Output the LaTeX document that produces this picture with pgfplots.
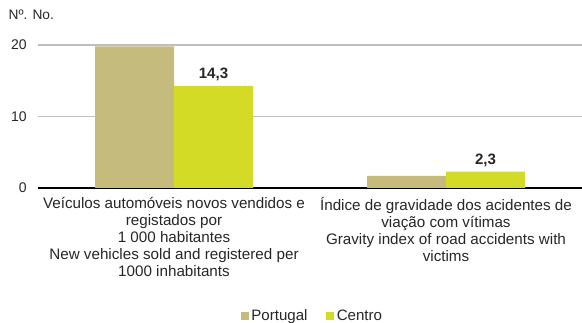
\documentclass[border=0pt]{standalone}
\usepackage{fontspec}
\setmainfont{Liberation Sans}
\usepackage{pgfplots}
\pgfplotsset{compat=1.18}

\definecolor{portugal}{HTML}{C4BB7D}
\definecolor{centro}{HTML}{D4DB27}
\definecolor{gridgray}{HTML}{BFBFBF}
\definecolor{txt}{HTML}{262626}

\begin{document}
\begin{tikzpicture}[x=1pt,y=1pt]
\useasboundingbox (-28.5,-101.25) rectangle (408,141);
\begin{axis}[
  at={(0,0)}, anchor=south west,
  scale only axis,
  width=408pt, height=107.25pt,
  xmin=-0.5, xmax=1.5,
  ymin=0, ymax=20,
  ybar, bar width=59.25pt,
  axis x line*=bottom, axis y line*=left,
  x axis line style={black, line width=1pt, -},
  y axis line style={draw=none},
  ytick={0,10,20},
  ymajorgrids,
  grid style={gridgray, line width=0.8pt},
  xtick={0,1},
  xtick style={draw=none},
  ytick style={draw=none},
  xticklabels={
    {Veículos automóveis novos vendidos e\\registados por\\1 000 habitantes\\New vehicles sold and registered per\\1000 inhabitants},
    {Índice de gravidade dos acidentes de\\viação com vítimas\\Gravity index of road accidents with\\victims}},
  xticklabel style={align=center, font=\fontsize{11.4}{12.75}\selectfont, text=txt, yshift=1pt},
  yticklabel style={font=\fontsize{10.5}{13}\selectfont, text=txt, xshift=-5pt},
  /pgf/number format/assume math mode=true,
  legend style={draw=none, fill=none, legend columns=2,
    at={(axis description cs:0.505,-0.895)}, anchor=center,
    font=\fontsize{11.3}{12}\selectfont, text=txt,
    /tikz/every even column/.append style={column sep=12pt}},
  legend image code/.code={\fill[#1] (0pt,-3pt) rectangle (6pt,3pt);},
  clip=false,
]
\addplot[fill=portugal, draw=none, bar shift=-29.625pt] coordinates {(0,19.8) (1,1.7)};
\addlegendentry{Portugal}
\addplot[fill=centro, draw=none, bar shift=29.625pt,
  nodes near coords, nodes near coords style={font=\fontsize{11.3}{13}\bfseries, text=txt, /pgf/number format/.cd, fixed, fixed zerofill, precision=1, use comma}]
  coordinates {(0,14.3) (1,2.3)};
\addlegendentry{Centro}
\end{axis}
\node[anchor=west, font=\fontsize{10.3}{11}\selectfont, text=txt] at (-25.5,129.75) {Nº. No.};
\end{tikzpicture}
\end{document}
